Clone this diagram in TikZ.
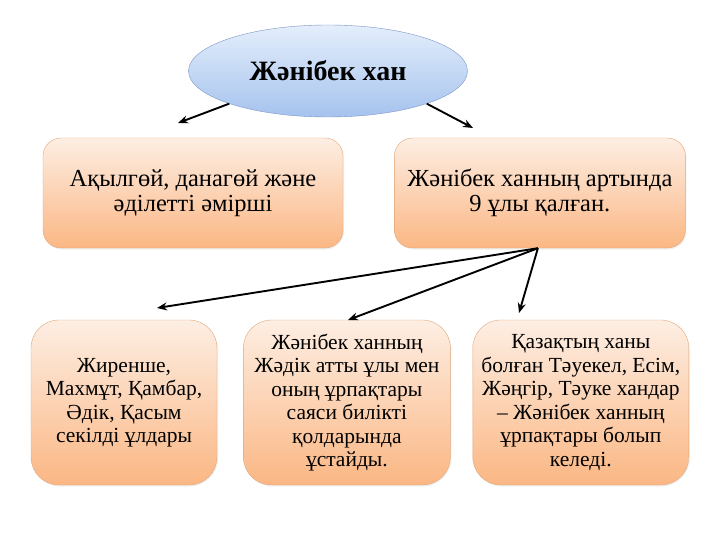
\documentclass[tikz,border=0pt]{standalone}
\usepackage{fontspec}
\setmainfont{Liberation Serif}
\usepackage{xcolor}
\usetikzlibrary{arrows.meta}
\usetikzlibrary{shapes.geometric,shadows}
\usetikzlibrary{positioning}

\definecolor{khantop}{HTML}{E4EEFB}
\definecolor{khanbot}{HTML}{A6C3EE}
\definecolor{khanedge}{HTML}{7B95C6}
\definecolor{boxtop}{HTML}{FDEEE3}
\definecolor{boxbot}{HTML}{FBB784}
\definecolor{boxedge}{HTML}{E2A677}

\begin{document}
\begin{tikzpicture}[x=1pt,y=-1pt,semithick]
 \tikzstyle{khan}=[ellipse, draw=khanedge, thin, top color=khantop, bottom color=khanbot, minimum width=279pt, minimum height=92pt, inner sep=0pt, font=\fontsize{28}{32}\selectfont\bfseries]
 \tikzstyle{box}=[draw=boxedge, thin, rounded corners=18pt, top color=boxtop, bottom color=boxbot, align=center, inner sep=0pt, drop shadow={opacity=0.12, shadow xshift=1pt, shadow yshift=-1.5pt}]
 \tikzstyle{big}=[box, minimum height=110pt, font=\fontsize{24.5}{25}\selectfont]
 \tikzstyle{small}=[box, minimum height=165pt, rounded corners=28pt, font=\fontsize{21.5}{23.5}\selectfont]
 \tikzstyle{arr}=[-{Stealth[length=10pt,width=8pt]}, line width=1.9pt]

 \useasboundingbox (0,0) rectangle (720,540);

 \node[khan] (1) at (328,71) {Жәнібек хан};
 \node[big, minimum width=300pt] (2) at (193,193) {Ақылгөй, данагөй және\\әділетті әмірші};
 \node[big, minimum width=291pt] (3) [right=51pt of 2] {Жәнібек ханның артында\\9 ұлы қалған.};

 \node[small, minimum width=186pt] (4) at (124,402.5) {Жиренше,\\Махмұт, Қамбар,\\Әдік, Қасым\\секілді ұлдары};
 \node[small, minimum width=207pt] (5) [right=26pt of 4] {Жәнібек ханның\\Жәдік атты ұлы мен\\оның ұрпақтары\\саяси билікті\\қолдарында\\ұстайды.};
 \node[small, minimum width=216pt] (6) [right=22pt of 5] {Қазақтың ханы\\болған Тәуекел, Есім,\\Жәңгір, Тәуке хандар\\– Жәнібек ханның\\ұрпақтары болып\\келеді.};

 % free ends of the arrows
 \coordinate (t2) at (178,123);
 \coordinate (t3) at (473,128);
 \coordinate (t4) at (157,308);
 \coordinate (t5) at (348,320);
 \coordinate (t6) at (519,313);

 \draw[arr] (1.south west) -- (t2);
 \draw[arr] (1.south east) -- (t3);
 \foreach \j in {4,5,6}{
   \draw[arr] ([xshift=-2pt]3.south) -- (t\j);
 }
\end{tikzpicture}
\end{document}
